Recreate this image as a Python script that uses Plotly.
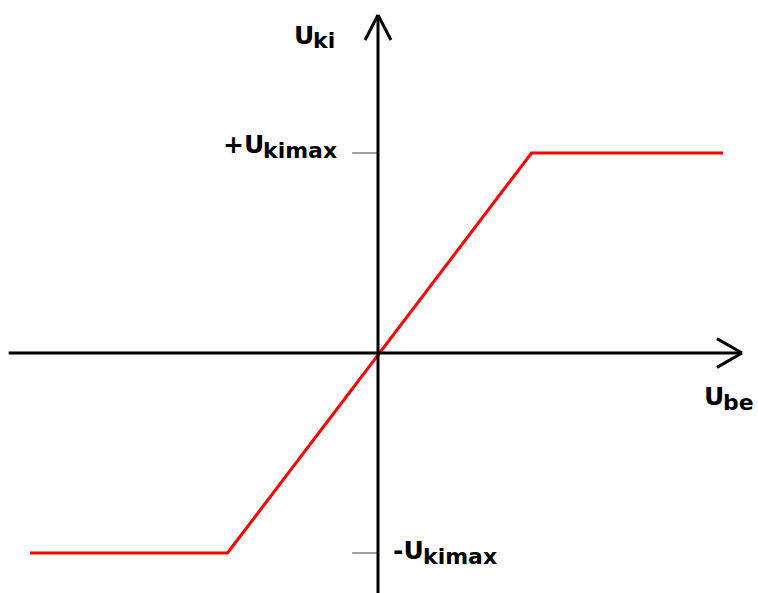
import plotly.graph_objects as go

# Transfer characteristic (saturating amplifier), normalised units
u_be = [-2.29, -0.99, 1.01, 2.27]
u_ki = [-1.0, -1.0, 1.0, 1.0]

tick_levels = [1.0, -1.0]
tick_main = ["+U", "-U"]
tick_sub = ["kimax", "kimax"]
x_main, x_sub = "U", "be"
y_main, y_sub = "U", "ki"

W, H = 758, 593
sx, sy = 152.0, 200.0          # pixels per unit
ox, oy = 378.0, 353.0          # origin in pixels
x_range = [-ox / sx, (W - ox) / sx]
y_range = [-(H - oy) / sy, oy / sy]

fig = go.Figure()
fig.add_trace(go.Scatter(x=u_be, y=u_ki, mode="lines",
                         line=dict(color="#ff0000", width=3), hoverinfo="skip",
                         showlegend=False))

shapes = []
blk = dict(color="black", width=3)
# axes
x_end, y_end = 2.395, 1.69
shapes.append(dict(type="line", x0=-2.43, x1=x_end, y0=0, y1=0, line=blk))
shapes.append(dict(type="line", x0=0, x1=0, y0=y_range[0], y1=y_end, line=blk))
# arrow heads
shapes.append(dict(type="line", x0=x_end, y0=0, x1=x_end - 0.165, y1=0.072, line=blk))
shapes.append(dict(type="line", x0=x_end, y0=0, x1=x_end - 0.165, y1=-0.072, line=blk))
shapes.append(dict(type="line", x0=0, y0=y_end, x1=0.085, y1=y_end - 0.125, line=blk))
shapes.append(dict(type="line", x0=0, y0=y_end, x1=-0.085, y1=y_end - 0.125, line=blk))
# gray ticks
for lv in tick_levels:
    shapes.append(dict(type="line", x0=-0.17, x1=0, y0=lv, y1=lv,
                       line=dict(color="#a0a0a0", width=2), layer="below"))

font_main = dict(family="DejaVu Sans", size=25, color="black")
font_sub = dict(family="DejaVu Sans", size=22, color="black")


def label(x, y, main, sub, ys_main, ys_sub):
    return [
        dict(x=x, y=y, text="<b>" + main + "</b>", xanchor="right", yanchor="middle",
             showarrow=False, font=font_main, yshift=ys_main, xshift=1, borderpad=0),
        dict(x=x, y=y, text="<b>" + sub + "</b>", xanchor="left", yanchor="middle",
             showarrow=False, font=font_sub, yshift=ys_sub, xshift=-2, borderpad=0),
    ]


ann = []
ann += label(-0.75, tick_levels[0], tick_main[0], tick_sub[0], 9, 3)
ann += label(0.30, tick_levels[1], tick_main[1], tick_sub[1], 3, -3)
ann += label(2.275, 0, x_main, x_sub, -43, -49)
ann += label(-0.42, 1.59, y_main, y_sub, 0, -5)

fig.update_layout(
    width=W, height=H, margin=dict(l=0, r=0, t=0, b=0),
    paper_bgcolor="white", plot_bgcolor="white",
    xaxis=dict(range=x_range, visible=False, fixedrange=True),
    yaxis=dict(range=y_range, visible=False, fixedrange=True),
    shapes=shapes, annotations=ann, showlegend=False,
)
fig.write_html("out.html", post_script="document.body.style.margin='0';",
               config=dict(displayModeBar=False))
